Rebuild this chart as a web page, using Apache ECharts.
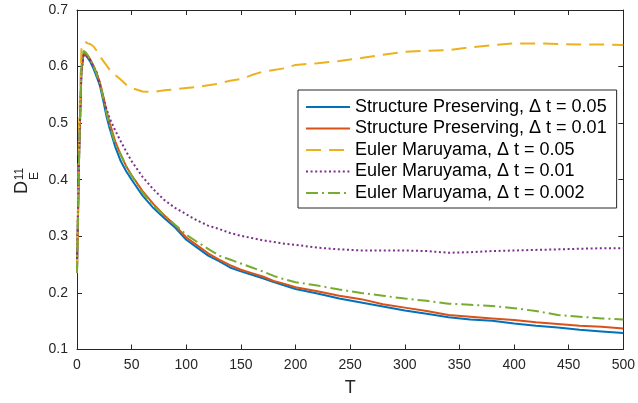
<!DOCTYPE html>
<html>
<head>
<meta charset="utf-8">
<script src="https://cdn.jsdelivr.net/npm/echarts@6/dist/echarts.min.js"></script>
<style>
  html, body { margin: 0; padding: 0; background: #fff; }
  #chart { width: 638px; height: 403px; }
</style>
</head>
<body>
<div id="chart"></div>
<script>
// Sample times T shared by every curve
const times = [0, 2, 4, 6, 8, 10, 12, 15, 18, 21, 24, 27, 30, 35, 40, 45, 50, 60, 70, 80, 90,
  100, 110, 120, 130, 140, 150, 160, 170, 180, 190, 200, 220, 240, 260, 280, 300, 320, 340,
  360, 380, 400, 420, 440, 460, 480, 500];

// D_E^11 for each scheme
const spDt005 = [0.24, 0.45, 0.59, 0.622, 0.62, 0.615, 0.609, 0.597, 0.582, 0.566, 0.540, 0.512,
  0.490, 0.458, 0.433, 0.415, 0.400, 0.372, 0.350, 0.332, 0.315, 0.294, 0.280, 0.266, 0.256,
  0.245, 0.238, 0.232, 0.226, 0.219, 0.213, 0.207, 0.199, 0.190, 0.183, 0.176, 0.169, 0.163,
  0.157, 0.153, 0.151, 0.146, 0.142, 0.139, 0.135, 0.132, 0.129];
const spDt001 = [0.24, 0.45, 0.59, 0.624, 0.622, 0.618, 0.613, 0.602, 0.588, 0.572, 0.548, 0.522,
  0.500, 0.468, 0.444, 0.424, 0.408, 0.380, 0.357, 0.337, 0.319, 0.298, 0.284, 0.270, 0.259,
  0.249, 0.241, 0.235, 0.229, 0.221, 0.216, 0.210, 0.203, 0.195, 0.189, 0.180, 0.174, 0.168,
  0.161, 0.158, 0.155, 0.152, 0.148, 0.145, 0.142, 0.140, 0.137];
const emDt005 = [0.24, 0.50, 0.63, 0.643, 0.643, 0.641, 0.640, 0.636, 0.628, 0.618, 0.610, 0.602,
  0.594, 0.585, 0.577, 0.568, 0.562, 0.556, 0.555, 0.558, 0.560, 0.562, 0.564, 0.567, 0.570,
  0.575, 0.578, 0.585, 0.591, 0.594, 0.597, 0.603, 0.606, 0.610, 0.615, 0.621, 0.626, 0.628,
  0.629, 0.634, 0.638, 0.641, 0.641, 0.640, 0.639, 0.639, 0.638];
const emDt001 = [0.26, 0.45, 0.59, 0.620, 0.620, 0.617, 0.612, 0.600, 0.590, 0.567, 0.546, 0.525,
  0.508, 0.487, 0.468, 0.450, 0.433, 0.405, 0.383, 0.364, 0.350, 0.339, 0.328, 0.319, 0.313,
  0.306, 0.301, 0.297, 0.293, 0.290, 0.287, 0.285, 0.280, 0.277, 0.275, 0.275, 0.275, 0.274,
  0.271, 0.272, 0.274, 0.275, 0.276, 0.277, 0.278, 0.279, 0.279];
const emDt0002 = [0.235, 0.45, 0.60, 0.628, 0.625, 0.620, 0.613, 0.601, 0.586, 0.570, 0.545, 0.518,
  0.495, 0.463, 0.445, 0.424, 0.407, 0.377, 0.354, 0.337, 0.320, 0.303, 0.290, 0.278, 0.266,
  0.259, 0.252, 0.245, 0.238, 0.230, 0.224, 0.219, 0.213, 0.206, 0.200, 0.195, 0.190, 0.186,
  0.181, 0.179, 0.177, 0.173, 0.168, 0.161, 0.158, 0.155, 0.153];

const seriesNames = [
  'Structure Preserving, Δ t = 0.05',
  'Structure Preserving, Δ t = 0.01',
  'Euler Maruyama, Δ t = 0.05',
  'Euler Maruyama, Δ t = 0.01',
  'Euler Maruyama, Δ t = 0.002'
];
const xTicks = { min: 0, max: 500, step: 50 };
const yTicks = { min: 0.1, max: 0.7, step: 0.1 };

const FONT = '"Liberation Sans", Arial, Helvetica, sans-serif';
const AXIS = '#262626';
const colors = ['#0072BD', '#D95319', '#EDB120', '#7E2F8E', '#77AC30'];
const dashes = ['solid', 'solid', [15, 8], [2, 2.6], [12, 4, 2, 4]];
const values = [spDt005, spDt001, emDt005, emDt001, emDt0002];

const pairs = arr => times.map((t, i) => [t, arr[i]]);

function axisBase(extra) {
  return Object.assign({
    type: 'value',
    axisLine: { show: true, onZero: false, lineStyle: { color: AXIS, width: 1 } },
    axisTick: { show: true, inside: true, length: 5, lineStyle: { color: AXIS, width: 1 } },
    splitLine: { show: false },
    minorTick: { show: false }
  }, extra);
}

const chart = echarts.init(document.getElementById('chart'), null, { renderer: 'canvas' });

chart.setOption({
  animation: false,
  backgroundColor: '#fff',
  grid: { left: 77, right: 11, top: 10, bottom: 53.5, containLabel: false },
  xAxis: [
    axisBase({
      position: 'bottom', min: xTicks.min, max: xTicks.max, interval: xTicks.step,
      axisLabel: { color: AXIS, fontSize: 14, fontFamily: FONT, margin: 9 },
      name: 'T', nameLocation: 'middle', nameGap: 30,
      nameTextStyle: { color: AXIS, fontSize: 18, fontFamily: FONT }
    }),
    axisBase({
      position: 'top', min: xTicks.min, max: xTicks.max, interval: xTicks.step,
      axisLabel: { show: false }
    })
  ],
  yAxis: [
    axisBase({
      position: 'left', min: yTicks.min, max: yTicks.max, interval: yTicks.step,
      axisLabel: { color: AXIS, fontSize: 14, fontFamily: FONT, margin: 9,
        formatter: v => v.toFixed(1) }
    }),
    axisBase({
      position: 'right', min: yTicks.min, max: yTicks.max, interval: yTicks.step,
      axisLabel: { show: false }
    })
  ],
  legend: {
    left: 298, top: 90, orient: 'vertical',
    padding: [8, 10, 6, 7],
    itemWidth: 44, itemHeight: 14, itemGap: 3.5,
    borderColor: AXIS, borderWidth: 1, backgroundColor: '#fff',
    textStyle: { color: '#000', fontSize: 18, fontFamily: FONT },
    itemStyle: { opacity: 0 },
    data: seriesNames
  },
  series: values.map((arr, i) => ({
    name: seriesNames[i],
    type: 'line',
    data: pairs(arr),
    symbol: 'none',
    showSymbol: false,
    smooth: false,
    color: colors[i],
    lineStyle: { color: colors[i], width: 2, type: dashes[i] },
    z: 2 + i
  })),
  graphic: [
    { type: 'text', x: 22, y: 187.5, rotation: Math.PI / 2,
      style: { text: 'D', fill: AXIS, font: '18px ' + FONT, align: 'center', verticalAlign: 'middle' } },
    { type: 'text', x: 19.7, y: 174, rotation: Math.PI / 2,
      style: { text: '11', fill: AXIS, font: '12px ' + FONT, align: 'center', verticalAlign: 'middle' } },
    { type: 'text', x: 35, y: 176, rotation: Math.PI / 2,
      style: { text: 'E', fill: AXIS, font: '12px ' + FONT, align: 'center', verticalAlign: 'middle' } }
  ]
});
</script>
</body>
</html>
